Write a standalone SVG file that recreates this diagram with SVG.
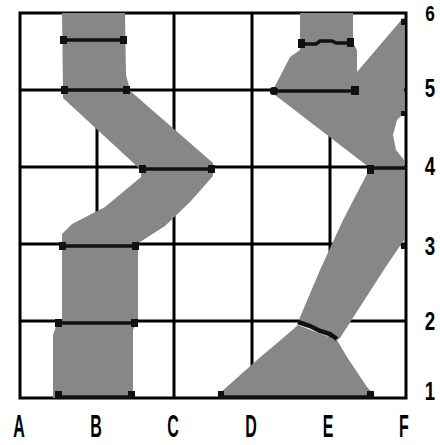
<svg xmlns="http://www.w3.org/2000/svg" width="440" height="445" viewBox="0 0 440 445">
<style>
.grid{stroke:#000;stroke-width:3;fill:none}
.band{fill:#878787}
.bar{stroke:#111;stroke-width:3.5;fill:none}
.end{fill:#111}
.lbl{font-family:"Liberation Sans","DejaVu Sans",sans-serif;font-weight:bold;fill:#000}
</style>
<rect width="440" height="445" fill="#fff"/>
<g id="grid">
<rect class="grid" x="20" y="13" width="386" height="385"/>
<line class="grid" x1="97" y1="13" x2="97" y2="398"/>
<line class="grid" x1="174" y1="13" x2="174" y2="398"/>
<line class="grid" x1="252" y1="13" x2="252" y2="398"/>
<line class="grid" x1="330" y1="13" x2="330" y2="398"/>
<line class="grid" x1="20" y1="90" x2="406" y2="90"/>
<line class="grid" x1="20" y1="167" x2="406" y2="167"/>
<line class="grid" x1="20" y1="244" x2="406" y2="244"/>
<line class="grid" x1="20" y1="321" x2="406" y2="321"/>
</g>
<g id="left-path">
<polygon class="band" points="62,13 125,13 126,75 130,90 63,90"/>
<polygon class="band" points="63,89 128,89 213,163 213,170 141,170 63,98"/>
<polygon class="band" points="141,167 213,167 213,176 190,202 165,226 140,242 138,246 62,246 62,234 72,224 105,207 141,177"/>
<rect class="band" x="62" y="245" width="76" height="78"/>
<polygon class="band" points="58,321 137,321 133,330 133,398 53,398 53,335"/>
<line class="bar" x1="63" y1="40" x2="124" y2="40"/>
<rect class="end" x="60" y="36" width="7" height="8"/><rect class="end" x="120" y="36" width="7" height="8"/>
<line class="bar" x1="64" y1="90" x2="128" y2="90"/>
<rect class="end" x="61" y="86" width="7" height="8"/><rect class="end" x="123" y="86" width="7" height="8"/>
<line class="bar" x1="142" y1="169" x2="212" y2="169"/>
<rect class="end" x="139" y="165" width="7" height="8"/><rect class="end" x="208" y="165" width="7" height="8"/>
<line class="bar" x1="62" y1="246" x2="137" y2="246"/>
<rect class="end" x="59" y="242" width="7" height="8"/><rect class="end" x="132" y="242" width="7" height="8"/>
<line class="bar" x1="58" y1="323" x2="135" y2="323"/>
<rect class="end" x="55" y="319" width="7" height="8"/><rect class="end" x="131" y="319" width="7" height="8"/>
<line class="bar" x1="56" y1="397" x2="132" y2="397"/>
<rect class="end" x="55" y="391" width="7" height="7"/><rect class="end" x="128" y="391" width="7" height="7"/>
</g>
<g id="right-path">
<rect class="band" x="300" y="13" width="53" height="32"/>
<polygon class="band" points="300,43 353,43 357,50 357,90 273,90 290,57 300,50"/>
<polygon class="band" points="403,18 404,18 404,90 357,90 357,72"/>
<polygon class="band" points="273,89 404,89 404,113 397,120 393,135 396,150 404,160 404,168 370,168 275,95"/>
<polygon class="band" points="370,167 404,167 404,240 385,268 340,338 337,340 298,322 320,270 343,220 368,172"/>
<polygon class="band" points="298,325 337,340 347,357 367,387 373,393 373,398 220,398 220,393 257,360 283,338"/>
<polyline class="bar" points="301,44 316,44 320,41 332,41 336,43 350,43"/>
<rect class="end" x="298" y="39" width="7" height="9"/><rect class="end" x="347" y="38" width="7" height="9"/>
<line class="bar" x1="274" y1="91" x2="355" y2="91"/>
<rect class="end" x="270" y="87" width="8" height="8" rx="3"/><rect class="end" x="351" y="86" width="8" height="9"/>
<line class="bar" x1="370" y1="168" x2="406" y2="168"/>
<rect class="end" x="367" y="165" width="7" height="9"/>
<polyline points="298,322 310,326 320,331 330,334 337,339" style="stroke:#111;stroke-width:4.5;fill:none"/>
<line class="bar" x1="220" y1="397" x2="372" y2="397"/>
<rect class="end" x="218" y="391" width="6" height="7"/><rect class="end" x="367" y="391" width="7" height="7"/>
<rect class="end" x="401" y="19" width="4" height="6"/>
<rect class="end" x="401" y="111" width="4" height="5"/>
<rect class="end" x="401" y="243" width="4" height="6"/>
</g>
<g id="labels">
<text class="lbl" font-size="32" transform="translate(19,437) scale(0.5,1)" text-anchor="middle">A</text>
<text class="lbl" font-size="32" transform="translate(96,437) scale(0.5,1)" text-anchor="middle">B</text>
<text class="lbl" font-size="32" transform="translate(173,437) scale(0.5,1)" text-anchor="middle">C</text>
<text class="lbl" font-size="32" transform="translate(251,437) scale(0.5,1)" text-anchor="middle">D</text>
<text class="lbl" font-size="32" transform="translate(328,437) scale(0.5,1)" text-anchor="middle">E</text>
<text class="lbl" font-size="32" transform="translate(404,437) scale(0.5,1)" text-anchor="middle">F</text>
<text class="lbl" font-size="22" transform="translate(430,21) scale(0.78,1)" text-anchor="middle">6</text>
<text class="lbl" font-size="26" transform="translate(430,97) scale(0.72,1)" text-anchor="middle">5</text>
<text class="lbl" font-size="26" transform="translate(430,175) scale(0.72,1)" text-anchor="middle">4</text>
<text class="lbl" font-size="26" transform="translate(430,255) scale(0.72,1)" text-anchor="middle">3</text>
<text class="lbl" font-size="26" transform="translate(430,330) scale(0.72,1)" text-anchor="middle">2</text>
<text class="lbl" font-size="26" transform="translate(430,400) scale(0.72,1)" text-anchor="middle">1</text>
</g>
</svg>
